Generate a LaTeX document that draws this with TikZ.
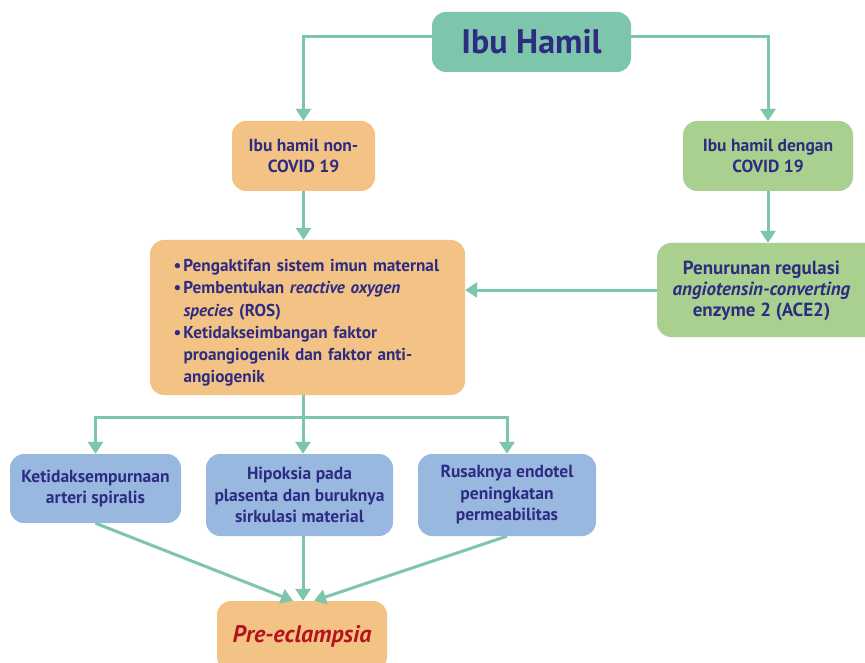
\documentclass[tikz,border=0pt]{standalone}
\usepackage{fontspec}
\setmainfont{PT Sans}
\usetikzlibrary{arrows.meta}
\definecolor{teal}{HTML}{7DC6AC}
\definecolor{orng}{HTML}{F3C385}
\definecolor{grn}{HTML}{A9D08E}
\definecolor{blu}{HTML}{99B8E0}
\definecolor{navy}{HTML}{2E2C82}
\definecolor{redt}{HTML}{B5141F}
\newcommand{\bitem}[1]{\hangindent=10pt\hangafter=1\noindent\makebox[10pt][l]{\textbullet}#1\par}
\tikzset{
  box/.style={rounded corners=14pt, inner sep=4pt, align=center, text=navy,
    font=\fontsize{17.5}{21.5}\selectfont\bfseries},
  conn/.style={draw=teal, line width=3pt},
  arr/.style={conn, -{Triangle[width=15pt,length=12pt]}},
}
\begin{document}
\begin{tikzpicture}[x=1pt,y=-1pt]
\clip (0,0) rectangle (865,663);
\fill[white] (0,0) rectangle (865,663);
\node[box, fill=teal, minimum width=199, minimum height=60, font=\fontsize{34}{38}\selectfont\bfseries] (ibu) at (531.5,42) {Ibu Hamil};
\node[box, fill=orng, minimum width=143, minimum height=70] (nc) at (303.5,156) {Ibu hamil non-\\COVID 19};
\node[box, fill=grn, minimum width=170, minimum height=70] (dc) at (768,156) {Ibu hamil dengan\\COVID 19};
\node[box, fill=orng, minimum width=315, minimum height=155] (bul) at (307.5,317.5) {};
\node[box, text width=268, align=left, font=\fontsize{17.2}{22.2}\selectfont\bfseries] (bult) at (307.5,323) {%
\bitem{Pengaktifan sistem imun maternal}%
\bitem{Pembentukan \textit{reactive oxygen}\newline\textit{species} (ROS)}%
\bitem{Ketidakseimbangan faktor\newline proangiogenik dan faktor anti-\newline angiogenik}};
\node[box, fill=grn, minimum width=224, minimum height=94] (ace) at (769,290) {};
\node[box, font=\fontsize{19}{21}\selectfont\bfseries] (acet) at (761.5,291) {Penurunan regulasi\\\textit{angiotensin-converting}\\enzyme 2 (ACE2)};
\node[box, fill=blu, minimum width=171, minimum height=69] (k) at (95.5,488.5) {Ketidaksempurnaan\\arteri spiralis};
\node[box, fill=blu, minimum width=187, minimum height=82] (hp) at (299.5,495) {Hipoksia pada\\plasenta dan buruknya\\sirkulasi material};
\node[box, fill=blu, minimum width=178, minimum height=82] (rk) at (507,495) {Rusaknya endotel\\peningkatan\\permeabilitas};
\node[box, fill=orng, minimum width=170, minimum height=70, text=redt, font=\fontsize{24}{26}\selectfont\bfseries\itshape] (pe) at (302,636) {Pre-eclampsia};
\coordinate (j) at (303,417);
\draw[arr] ([yshift=5pt]ibu.west) -| (nc.north);
\draw[arr] ([yshift=5pt]ibu.east) -| (dc.north);
\draw[arr] (nc.south) -- (nc.south |- bul.north);
\draw[arr] (dc.south) -- (dc.south |- ace.north);
\draw[arr] (ace.west) -- (ace.west -| bul.east);
\draw[conn] (bul.south -| j) -- (j);
\draw[arr] (j) -| (k.north);
\draw[arr] (j) -| (rk.north);
\draw[arr] (j) -- (j |- hp.north);
\draw[arr] (k.south) -- ([xshift=-9pt]pe.north);
\draw[arr] (hp.south -| j) -- (j |- pe.north);
\draw[arr] (rk.south) -- ([xshift=12pt]pe.north);
\end{tikzpicture}
\end{document}
